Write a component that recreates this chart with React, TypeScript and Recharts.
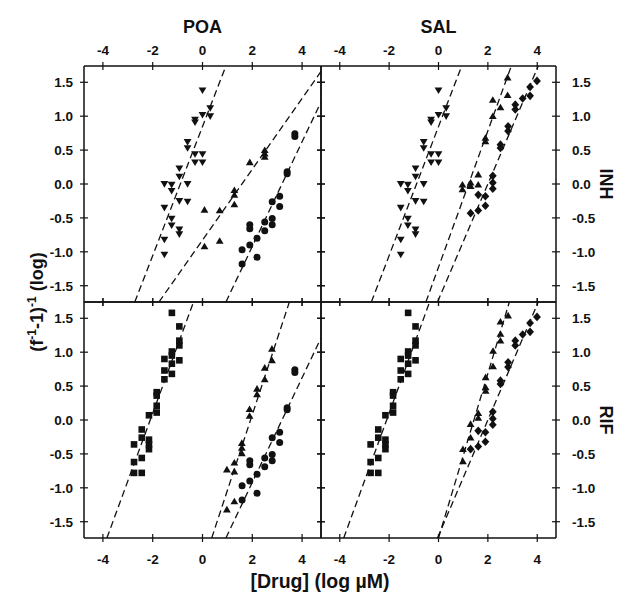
import React from "react";
import { ScatterChart, Scatter, XAxis, YAxis, ReferenceLine } from "recharts";

// axis setup
const X_TICKS = [-4, -2, 0, 2, 4];
const Y_TICKS = [-1.5, -1.0, -0.5, 0, 0.5, 1.0, 1.5];
const X_DOMAIN = [-4.76, 4.76];
const Y_DOMAIN = [-1.74, 1.74];

const COL_TITLES = ["POA", "SAL"];
const ROW_TITLES = ["INH", "RIF"];

// single drugs
const INH_ALONE: [number, number][] = [
  [0, 1.38], [0.31, 1.12], [0, 1.02], [0.31, 1.0], [-0.3, 0.95], [-0.3, 0.91],
  [-0.6, 0.62], [-0.6, 0.53], [-0.3, 0.44], [0, 0.44], [-0.3, 0.32], [0, 0.32],
  [-0.93, 0.23], [-0.93, 0.11], [-1.53, 0], [-1.24, -0.01], [-0.6, 0], [-1.24, -0.1],
  [-0.93, -0.25], [-0.6, -0.26], [-1.53, -0.35], [-1.24, -0.51], [-1.24, -0.61],
  [-0.93, -0.67], [-0.93, -0.74], [-1.53, -0.82], [-1.53, -1.04],
];
const RIF_ALONE: [number, number][] = [
  [-1.23, 1.58], [-0.93, 1.38], [-0.93, 1.17], [-0.93, 1.1], [-1.23, 1.01], [-1.23, 0.95],
  [-1.53, 0.9], [-1.23, 0.83], [-0.93, 0.88], [-1.53, 0.73], [-1.53, 0.6], [-1.23, 0.68],
  [-1.84, 0.41], [-1.84, 0.36], [-1.84, 0.21], [-1.84, 0.11], [-2.15, 0.07], [-2.44, -0.14],
  [-2.44, -0.26], [-2.15, -0.29], [-2.15, -0.36], [-2.15, -0.43], [-2.75, -0.36],
  [-2.44, -0.56], [-2.75, -0.62], [-2.75, -0.78], [-2.44, -0.78],
];
const POA_ALONE: [number, number][] = [
  [3.71, 0.74], [3.71, 0.7], [3.4, 0.18], [3.4, 0.15], [3.1, -0.18], [3.1, -0.33],
  [2.8, -0.26], [2.8, -0.51], [2.8, -0.6], [2.5, -0.56], [2.5, -0.69], [2.19, -0.8],
  [2.19, -1.08], [1.9, -0.6], [1.9, -0.66], [1.9, -0.9], [1.59, -0.97], [1.59, -1.18],
];
const SAL_ALONE: [number, number][] = [
  [3.99, 1.52], [3.71, 1.43], [3.71, 1.3], [3.41, 1.26], [3.11, 1.17], [3.11, 1.1],
  [2.82, 0.85], [2.82, 0.78], [2.51, 0.58], [2.51, 0.53], [2.2, 0.12], [2.2, 0.02],
  [2.2, -0.07], [1.9, -0.18], [1.9, -0.32], [1.61, -0.16], [1.61, -0.39], [1.3, -0.43],
];

// combinations
const POA_INH: [number, number][] = [
  [0.08, -0.92], [0.08, -0.38], [0.69, -0.84], [0.69, -0.39], [1.28, -0.09], [1.28, -0.16],
  [1.28, -0.3], [1.9, 0.32], [2.5, 0.5], [2.5, 0.45], [2.5, 0.4],
];
const SAL_INH: [number, number][] = [
  [2.8, 1.57], [2.8, 1.31], [2.2, 1.24], [2.51, 1.13], [2.2, 1.0], [1.9, 0.68], [1.9, 0.63],
  [1.61, 0.14], [1.61, -0.01], [1.3, 0.02], [1.3, -0.03], [0.97, -0.01], [0.97, -0.08],
];
const POA_RIF: [number, number][] = [
  [2.79, 1.05], [2.79, 0.88], [2.5, 0.77], [2.5, 0.6], [2.19, 0.46], [2.19, 0.38],
  [1.89, 0.16], [1.89, 0.06], [1.58, -0.34], [1.58, -0.41], [1.58, -0.49], [1.28, -0.63],
  [1.28, -0.76], [0.98, -0.73], [1.28, -1.2], [0.98, -1.32],
];
const SAL_RIF: [number, number][] = [
  [2.82, 1.54], [2.51, 1.45], [2.51, 1.27], [2.51, 1.17], [2.21, 1.02], [2.21, 0.79],
  [1.91, 0.63], [1.91, 0.48], [1.91, 0.43], [1.61, 0.1], [1.61, 0.03], [1.3, -0.06],
  [1.3, -0.26], [0.99, -0.43], [0.99, -0.61],
];

// fitted lines, end points read where they meet the frame
const FIT_INH: [number, number][] = [[-2.72, -1.74], [0.94, 1.74]];
const FIT_RIF: [number, number][] = [[-3.84, -1.74], [-0.36, 1.74]];
const FIT_POA: [number, number][] = [[0.94, -1.74], [4.76, 1.21]];
const FIT_SAL: [number, number][] = [[-0.04, -1.74], [4.04, 1.74]];
const FIT_POA_INH: [number, number][] = [[-1.75, -1.74], [4.76, 1.66]];
const FIT_SAL_INH: [number, number][] = [[-0.51, -1.74], [2.95, 1.74]];
const FIT_POA_RIF: [number, number][] = [[0.37, -1.74], [3.49, 1.74]];
const FIT_SAL_RIF: [number, number][] = [[0.0, -1.74], [2.87, 1.74]];

const W = 626;
const H = 596;
const COL_LEFT = [84, 321];
const COL_WIDTH = [237, 235];
const ROW_TOP = [66, 302];
const ROW_HEIGHT = [236, 236];
const AX = 1; // thickness reserved for each axis

const INK = "#111";
const FONT = "'Liberation Sans', Arial, sans-serif";

type Marker = "down" | "up" | "circle" | "square" | "diamond";

const toPts = (arr: [number, number][]) => arr.map(([x, y]) => ({ x, y }));

const shapeFor = (m: Marker) => (p: any) => {
  const { cx, cy } = p;
  if (cx == null || cy == null) return <g />;
  switch (m) {
    case "down":
      return <path d={`M${cx - 3.9},${cy - 2.9}L${cx + 3.9},${cy - 2.9}L${cx},${cy + 3.7}Z`} fill={INK} />;
    case "up":
      return <path d={`M${cx - 3.9},${cy + 2.9}L${cx + 3.9},${cy + 2.9}L${cx},${cy - 3.7}Z`} fill={INK} />;
    case "circle":
      return <circle cx={cx} cy={cy} r={3.5} fill={INK} />;
    case "square":
      return <rect x={cx - 3.3} y={cy - 3.3} width={6.6} height={6.6} fill={INK} />;
    default:
      return <path d={`M${cx},${cy - 4.3}L${cx + 3.9},${cy}L${cx},${cy + 4.3}L${cx - 3.9},${cy}Z`} fill={INK} />;
  }
};

const tickFor = (side: "top" | "bottom" | "left" | "right", show: boolean) => (p: any) => {
  const { x, y, payload } = p;
  const v = payload.value;
  const txt = { fontFamily: FONT, fontWeight: 700, fontSize: 13.5, fill: INK } as any;
  if (side === "top" || side === "bottom") {
    return (
      <g>
        <line x1={x} x2={x} y1={y - 4} y2={y + 4} stroke={INK} strokeWidth={1.2} />
        {show && (
          <text x={x} y={side === "top" ? y - 11 : y + 26} textAnchor="middle" {...txt}>
            {String(v)}
          </text>
        )}
      </g>
    );
  }
  return (
    <g>
      <line x1={x - 4} x2={x + 4} y1={y} y2={y} stroke={INK} strokeWidth={1.2} />
      {show && (
        <text x={side === "left" ? x - 11 : x + 16} y={y + 4.8} textAnchor={side === "left" ? "end" : "start"} {...txt}>
          {Number(v).toFixed(1)}
        </text>
      )}
    </g>
  );
};

interface PanelProps {
  col: number;
  row: number;
  series: { data: [number, number][]; marker: Marker }[];
  fits: [number, number][][];
}

function Panel({ col, row, series, fits }: PanelProps) {
  const left = COL_LEFT[col];
  const top = ROW_TOP[row];
  const margin = {
    left: left - AX,
    top: top - AX,
    right: W - left - COL_WIDTH[col] - AX,
    bottom: H - top - ROW_HEIGHT[row] - AX,
  };
  const axisLine = { stroke: INK, strokeWidth: 1.5 };
  return (
    <div style={{ position: "absolute", left: 0, top: 0 }}>
      <ScatterChart width={W} height={H} margin={margin}>
        <XAxis xAxisId="t" orientation="top" type="number" dataKey="x" domain={X_DOMAIN} ticks={X_TICKS}
          height={AX} tickSize={0} tickMargin={0} tickLine={false} axisLine={axisLine}
          tick={tickFor("top", row === 0)} interval={0} allowDataOverflow />
        <XAxis xAxisId="b" orientation="bottom" type="number" dataKey="x" domain={X_DOMAIN} ticks={X_TICKS}
          height={AX} tickSize={0} tickMargin={0} tickLine={false} axisLine={axisLine}
          tick={tickFor("bottom", row === 1)} interval={0} allowDataOverflow />
        <YAxis yAxisId="l" orientation="left" type="number" dataKey="y" domain={Y_DOMAIN} ticks={Y_TICKS}
          width={AX} tickSize={0} tickMargin={0} tickLine={false} axisLine={axisLine}
          tick={tickFor("left", col === 0)} interval={0} allowDataOverflow />
        <YAxis yAxisId="r" orientation="right" type="number" dataKey="y" domain={Y_DOMAIN} ticks={Y_TICKS}
          width={AX} tickSize={0} tickMargin={0} tickLine={false} axisLine={axisLine}
          tick={tickFor("right", col === 1)} interval={0} allowDataOverflow />
        {fits.map((f, i) => (
          <ReferenceLine key={"f" + i} xAxisId="b" yAxisId="l" ifOverflow="hidden"
            segment={[{ x: f[0][0], y: f[0][1] }, { x: f[1][0], y: f[1][1] }]}
            stroke={INK} strokeWidth={1.3} strokeDasharray="7 4" />
        ))}
        {series.map((s, i) => (
          <Scatter key={"s" + i} xAxisId="b" yAxisId="l" data={toPts(s.data)} dataKey="y"
            shape={shapeFor(s.marker)} isAnimationActive={false} />
        ))}
      </ScatterChart>
    </div>
  );
}

const PANELS: PanelProps[] = [
  {
    col: 0, row: 0,
    series: [
      { data: INH_ALONE, marker: "down" },
      { data: POA_INH, marker: "up" },
      { data: POA_ALONE, marker: "circle" },
    ],
    fits: [FIT_INH, FIT_POA_INH, FIT_POA],
  },
  {
    col: 1, row: 0,
    series: [
      { data: INH_ALONE, marker: "down" },
      { data: SAL_INH, marker: "up" },
      { data: SAL_ALONE, marker: "diamond" },
    ],
    fits: [FIT_INH, FIT_SAL_INH, FIT_SAL],
  },
  {
    col: 0, row: 1,
    series: [
      { data: RIF_ALONE, marker: "square" },
      { data: POA_RIF, marker: "up" },
      { data: POA_ALONE, marker: "circle" },
    ],
    fits: [FIT_RIF, FIT_POA_RIF, FIT_POA],
  },
  {
    col: 1, row: 1,
    series: [
      { data: RIF_ALONE, marker: "square" },
      { data: SAL_RIF, marker: "up" },
      { data: SAL_ALONE, marker: "diamond" },
    ],
    fits: [FIT_RIF, FIT_SAL_RIF, FIT_SAL],
  },
];

export default function App() {
  const title = { fontFamily: FONT, fontWeight: 700, fontSize: 18, fill: INK } as any;
  return (
    <div style={{ position: "absolute", left: 0, top: 0, width: W, height: H, background: "#fff" }}>
      {PANELS.map((p, i) => (
        <Panel key={i} {...p} />
      ))}
      <svg width={W} height={H} style={{ position: "absolute", left: 0, top: 0 }}>
        {COL_TITLES.map((t, i) => (
          <text key={t} x={COL_LEFT[i] + COL_WIDTH[i] / 2} y={33} textAnchor="middle" {...title}>
            {t}
          </text>
        ))}
        {ROW_TITLES.map((t, i) => {
          const cy = ROW_TOP[i] + ROW_HEIGHT[i] / 2;
          return (
            <text key={t} x={600} y={cy} textAnchor="middle" transform={`rotate(90 600 ${cy})`} {...title}>
              {t}
            </text>
          );
        })}
        <text x={(COL_LEFT[0] + COL_LEFT[1] + COL_WIDTH[1]) / 2} y={588} textAnchor="middle" {...title} fontSize={19.5}>
          [Drug] (log µM)
        </text>
        <text x={43} y={302} textAnchor="middle" transform="rotate(-90 43 302)" {...title}>
          (f<tspan dy={-7} fontSize={12}>-1</tspan>
          <tspan dy={7}>-1)</tspan>
          <tspan dy={-7} fontSize={12}>-1</tspan>
          <tspan dy={7}> (log)</tspan>
        </text>
      </svg>
    </div>
  );
}
